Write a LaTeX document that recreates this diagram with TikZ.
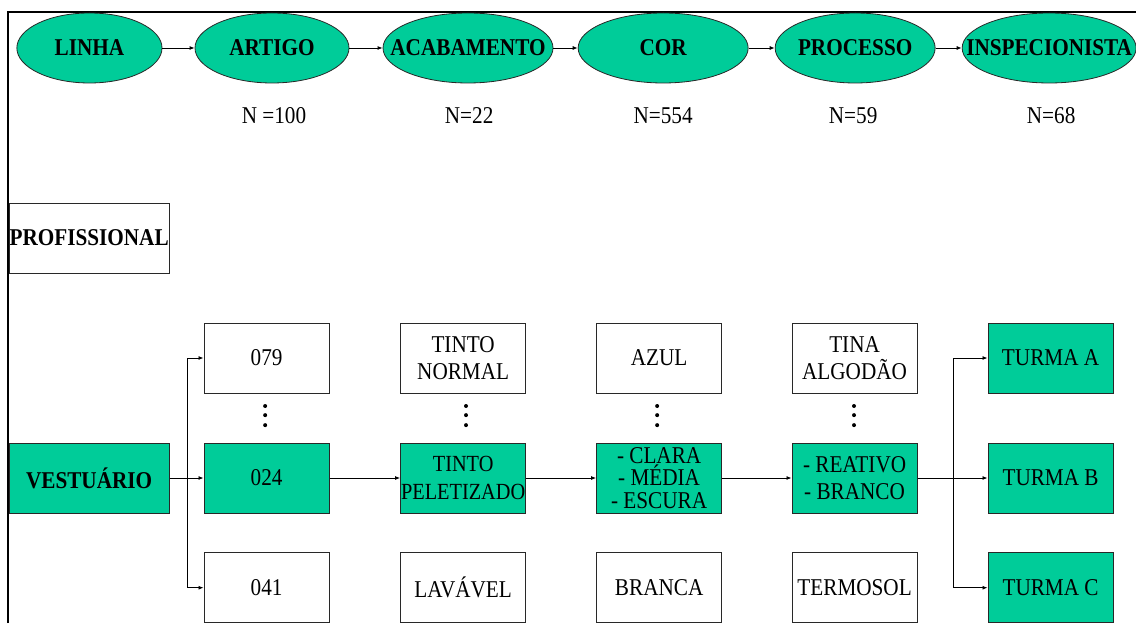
\documentclass[tikz,border=0pt]{standalone}
\usepackage{fontspec}
\setmainfont{Liberation Serif}[FakeStretch=0.88]
\usetikzlibrary{shapes.geometric,arrows.meta}
\newcommand{\tight}[1]{\makebox[0pt]{#1}}
\begin{document}
\begin{tikzpicture}[
  stage/.style={ellipse,draw=edgecolor,line width=0.8pt,fill=fillcolor,inner sep=0pt,
    minimum height=2.45cm,font=\fontsize{24}{26}\selectfont\bfseries},
  cell/.style={rectangle,draw=edgecolor,line width=0.9pt,inner sep=0pt,minimum width=4.38cm,
    minimum height=2.45cm,align=center,font=\fontsize{24}{27}\selectfont},
  pick/.style={cell,fill=fillcolor},
  count/.style={font=\fontsize{24}{26}\selectfont},
  link/.style={draw=pathcolor,line width=0.9pt,-{Latex[length=5pt,width=4pt]}}
]
\definecolor{edgecolor}{RGB}{40,40,40}
\definecolor{pathcolor}{RGB}{0,0,0}
\definecolor{fillcolor}{RGB}{0,204,153}
\useasboundingbox (0,0) rectangle (39.76,21.81);
\draw [line width=1.7pt,pathcolor] (0.28,0) -- (0.28,21.39) -- (39.76,21.39);
% stages along the top
\node [stage,minimum width=5.08cm] (linha) at (3.13,20.13) {\tight{LINHA}};
\node [stage,minimum width=5.39cm] (artigo) at (9.52,20.13) {\tight{ARTIGO}};
\node [stage,minimum width=5.95cm] (acab) at (16.38,20.13) {\tight{ACABAMENTO}};
\node [stage,minimum width=5.95cm] (cor) at (23.21,20.13) {\tight{COR}};
\node [stage,minimum width=5.6cm] (proc) at (29.93,20.13) {\tight{PROCESSO}};
\node [stage,minimum width=6.09cm] (insp) at (36.72,20.13) {\tight{INSPECIONISTA}};
\draw [link] (linha) -- (artigo);
\draw [link] (artigo) -- (acab);
\draw [link] (acab) -- (cor);
\draw [link] (cor) -- (proc);
\draw [link] (proc) -- (insp);
\node [count] (nartigo) at (9.59,17.75) {N =100};
\node [count] (nacab) at (16.42,17.75) {N=22};
\node [count] (ncor) at (23.21,17.75) {N=554};
\node [count] (nproc) at (29.86,17.75) {N=59};
\node [count] (ninsp) at (36.79,17.75) {N=68};
% line
\node [cell,minimum width=5.6cm,font=\fontsize{24}{26}\selectfont\bfseries] (prof) at (3.12,13.48) {\tight{PROFISSIONAL}};
\node [pick,minimum width=5.6cm,font=\fontsize{24}{26}\selectfont\bfseries] (vest) at (3.12,5.08) {VESTUÁRIO};
% artigo
\node [cell] (a079) at (9.33,9.28) {079};
\node [pick] (a024) at (9.33,5.08) {024};
\node [cell] (a041) at (9.33,1.24) {041};
% acabamento
\node [cell] (tnorm) at (16.21,9.28) {TINTO\\NORMAL};
\node [pick,font=\fontsize{23}{27}\selectfont] (tpel) at (16.21,5.08) {TINTO\\\tight{PELETIZADO}};
\node [cell] (lav) at (16.21,1.24) {LAVÁVEL};
% cor
\node [cell] (azul) at (23.07,9.28) {AZUL};
\node [pick,font=\fontsize{24}{22.5}\selectfont] (tons) at (23.07,5.08) {- CLARA\\- MÉDIA\\- ESCURA};
\node [cell] (branca) at (23.07,1.24) {BRANCA};
% processo
\node [cell] (tina) at (29.91,9.28) {TINA\\ALGODÃO};
\node [pick] (reat) at (29.91,5.08) {- REATIVO\\- BRANCO};
\node [cell] (termo) at (29.91,1.24) {TERMOSOL};
% inspecionista
\node [pick] (turmaa) at (36.77,9.28) {TURMA A};
\node [pick] (turmab) at (36.77,5.08) {TURMA B};
\node [pick] (turmac) at (36.77,1.24) {TURMA C};
% dots between first and second row
\foreach \x in {9.28,16.31,23.0,29.89}
  \foreach \y in {7.6,7.28,6.93}
    \fill [pathcolor] (\x,\y) circle [radius=0.07];
% connectors
\coordinate (split1) at (6.55,5.08);
\coordinate (split2) at (33.36,5.08);
\draw [link] (vest) -- (a024);
\draw [link] (split1) |- (a079);
\draw [link] (split1) |- (a041);
\draw [link] (a024) -- (tpel);
\draw [link] (tpel) -- (tons);
\draw [link] (tons) -- (reat);
\draw [link] (reat) -- (turmab);
\draw [link] (split2) |- (turmaa);
\draw [link] (split2) |- (turmac);
\end{tikzpicture}
\end{document}
